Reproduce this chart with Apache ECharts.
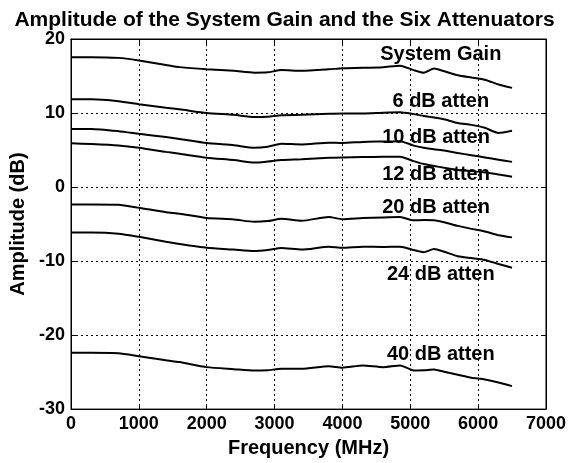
<!DOCTYPE html>
<html>
<head>
<meta charset="utf-8">
<script src="https://cdn.jsdelivr.net/npm/echarts@6/dist/echarts.min.js"></script>
<style>
  html, body { margin: 0; padding: 0; background: #fff; }
  #chart { width: 569px; height: 463px; }
</style>
</head>
<body>
<div id="chart"></div>
<script>
// frequency samples (MHz)
const freq = [0, 300, 700, 1000, 1400, 1600, 2000, 2400, 2700, 2900, 3100, 3400, 3800, 4000, 4300, 4600, 4850, 5050, 5200, 5350, 5500, 5700, 5900, 6100, 6300, 6500]

// amplitude (dB) per curve
const systemGain = [17.55, 17.55, 17.45, 17.1, 16.5, 16.2, 15.9, 15.7, 15.45, 15.5, 15.8, 15.7, 15.9, 16.05, 16.1, 16.2, 16.4, 15.8, 15.45, 16.0, 15.65, 15.1, 14.8, 14.5, 13.85, 13.4]
const atten6 = [11.85, 11.85, 11.6, 11.2, 10.7, 10.5, 10.0, 9.75, 9.45, 9.5, 9.7, 9.75, 9.9, 9.95, 9.95, 10.05, 10.1, 9.85, 9.6, 9.4, 9.15, 8.65, 8.4, 8.0, 7.3, 7.6]
const atten10 = [7.85, 7.85, 7.55, 7.2, 6.75, 6.5, 5.95, 5.65, 5.3, 5.45, 5.85, 5.75, 6.0, 5.95, 6.1, 6.15, 6.2, 5.6, 5.3, 5.1, 4.95, 4.6, 4.3, 4.0, 3.7, 3.4]
const atten12 = [5.9, 5.8, 5.6, 5.3, 4.75, 4.5, 3.97, 3.65, 3.3, 3.45, 3.65, 3.75, 3.95, 4.0, 4.05, 4.1, 4.1, 3.5, 3.1, 2.85, 2.6, 2.3, 2.15, 1.97, 1.7, 1.38]
const atten20 = [-2.37, -2.37, -2.4, -2.8, -3.4, -3.6, -4.19, -4.37, -4.7, -4.6, -4.3, -4.55, -4.05, -4.35, -4.19, -4.1, -4.05, -4.5, -4.45, -4.5, -4.75, -5.25, -5.65, -6.0, -6.5, -6.8]
const atten24 = [-6.15, -6.15, -6.3, -6.73, -7.4, -7.7, -8.2, -8.45, -8.64, -8.5, -8.25, -8.45, -8.06, -8.2, -8.06, -8.1, -8.06, -8.5, -8.8, -8.38, -8.75, -9.35, -9.6, -9.85, -10.4, -10.9]
const atten40 = [-22.4, -22.4, -22.45, -22.85, -23.4, -23.65, -24.33, -24.6, -24.8, -24.75, -24.55, -24.55, -24.2, -24.4, -24.1, -24.33, -24.1, -24.77, -24.75, -24.64, -24.95, -25.35, -25.75, -26.0, -26.4, -26.9]

// curve labels and where they sit (data coords)
const labelNames = ['System Gain', '6 dB atten', '10 dB atten', '12 dB atten', '20 dB atten', '24 dB atten', '40 dB atten']
const labelX = [5450, 5450, 5380, 5380, 5380, 5450, 5450]
const labelY = [17.9, 11.5, 6.7, 1.65, -2.8, -11.8, -22.6]

const curves = [systemGain, atten6, atten10, atten12, atten20, atten24, atten40]

const font = '"Liberation Sans", Arial, sans-serif'
const chart = echarts.init(document.getElementById('chart'))

const lineSeries = curves.map((vals, i) => ({
  name: labelNames[i],
  type: 'line',
  data: freq.map((f, j) => [f, vals[j]]),
  showSymbol: false,
  smooth: 0.2,
  lineStyle: { color: '#000', width: 2 },
  silent: true,
  z: 3
}))

const option = {
  animation: false,
  backgroundColor: '#fff',
  title: {
    text: 'Amplitude of the System Gain and the Six Attenuators',
    left: 'center',
    top: 5,
    textStyle: { fontFamily: font, fontSize: 21, fontWeight: 'bold', color: '#000' }
  },
  grid: { left: 71, right: 22, top: 39, bottom: 50, show: true, borderColor: '#000', borderWidth: 1 },
  xAxis: [{
    type: 'value',
    min: 0, max: 7000, interval: 1000,
    name: 'Frequency (MHz)',
    nameLocation: 'middle',
    nameGap: 28,
    nameTextStyle: { fontFamily: font, fontSize: 20, fontWeight: 'bold', color: '#000' },
    axisLine: { onZero: false, lineStyle: { color: '#000' } },
    axisTick: { inside: true, length: 5, lineStyle: { color: '#000' } },
    axisLabel: { fontFamily: font, fontSize: 18, fontWeight: 'bold', color: '#000', margin: 6, formatter: v => String(v) },
    splitLine: { show: true, lineStyle: { color: '#000', type: [2, 3], width: 1 } }
  }, {
    type: 'value', position: 'top',
    min: 0, max: 7000, interval: 1000,
    axisLine: { onZero: false, lineStyle: { color: '#000' } },
    axisTick: { inside: true, length: 5, lineStyle: { color: '#000' } },
    axisLabel: { show: false },
    splitLine: { show: false }
  }],
  yAxis: [{
    type: 'value',
    min: -30, max: 20, interval: 10,
    name: 'Amplitude (dB)',
    nameLocation: 'middle',
    nameGap: 42,
    nameTextStyle: { fontFamily: font, fontSize: 20, fontWeight: 'bold', color: '#000' },
    axisLine: { show: true, onZero: false, lineStyle: { color: '#000' } },
    axisTick: { show: true, inside: true, length: 5, lineStyle: { color: '#000' } },
    axisLabel: { fontFamily: font, fontSize: 18, fontWeight: 'bold', color: '#000', margin: 6 },
    splitLine: { show: true, lineStyle: { color: '#000', type: [2, 3], width: 1 } }
  }, {
    type: 'value', position: 'right',
    min: -30, max: 20, interval: 10,
    axisLine: { show: true, onZero: false, lineStyle: { color: '#000' } },
    axisTick: { show: true, inside: true, length: 5, lineStyle: { color: '#000' } },
    axisLabel: { show: false },
    splitLine: { show: false }
  }],
  series: [
    ...lineSeries,
    {
      type: 'scatter',
      symbolSize: 0,
      silent: true,
      z: 5,
      itemStyle: { opacity: 1, color: '#000' },
      data: labelNames.map((n, i) => ({ name: n, value: [labelX[i], labelY[i]] })),
      label: {
        show: true,
        position: 'inside',
        formatter: '{b}',
        fontFamily: font,
        fontSize: 20,
        fontWeight: 'bold',
        color: '#000',
        opacity: 1,
        textBorderWidth: 0
      }
    }
  ]
}

chart.setOption(option)
</script>
</body>
</html>
